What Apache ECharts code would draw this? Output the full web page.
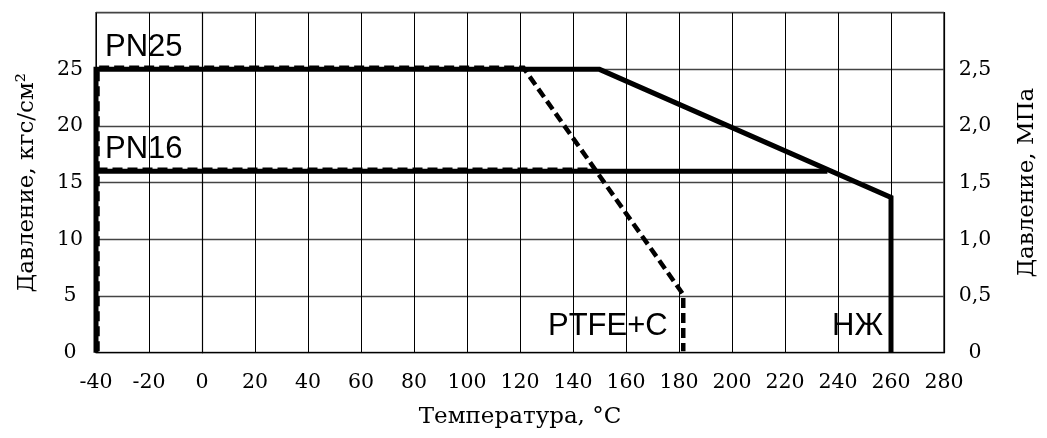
<!DOCTYPE html>
<html><head><meta charset="utf-8">
<script src="https://cdn.jsdelivr.net/npm/echarts@6/dist/echarts.min.js"></script>
<style>html,body{margin:0;padding:0;background:#fff}#c{width:1047px;height:438px}</style>
</head><body><div id="c"></div>
<script>
// Temperature axis (°C)
const xMin = -40, xMax = 280, xStep = 20;
// Pressure axes
const yLeftMax = 30, yLeftStep = 5;         // kgf/cm²
const yRightMax = 3, yRightStep = 0.5;      // MPa
const yLeftHiddenTick = 30;
const yRightHiddenTick = 3;

// НЖ (stainless) envelope, PN25
const nzhPN25 = [[-40, 0], [-40, 25], [150, 25], [260, 13.7], [260, 0]];
// НЖ, PN16
const nzhPN16 = [[-40, 16], [236, 16]];
// PTFE+C envelope, PN25
const ptfePN25 = [[-40, 0], [-40, 25], [120, 25], [180, 5], [180, 0]];
// PTFE+C, PN16
const ptfePN16 = [[-40, 16], [147, 16]];

const serif = '"DejaVu Serif", serif';
const sans = '"Liberation Sans", Arial, sans-serif';

const chart = echarts.init(document.getElementById('c'), null, {renderer: 'canvas'});

function xAxisCfg(gi, show) {
  return {
    type: 'value', gridIndex: gi, min: xMin, max: xMax, interval: xStep,
    show: show,
    name: show ? 'Температура, °C' : '', nameLocation: 'middle', nameGap: 53,
    nameTextStyle: {fontFamily: serif, fontSize: 23, color: '#000'},
    axisLine: {show: true, onZero: false, lineStyle: {color: '#000', width: 1.2}},
    axisTick: {show: false},
    axisLabel: {show: show, fontFamily: serif, fontSize: 20.5, color: '#000', margin: 19},
    splitLine: {show: show, lineStyle: {color: '#000', width: 1}}
  };
}

const option = {
  animation: false,
  backgroundColor: '#fff',
  grid: [
    {left: 96, right: 99, top: 12.7, bottom: 85.3, show: true, borderColor: '#000', borderWidth: 1.2, backgroundColor: 'transparent'},
    {left: 97.5, right: 97.5, top: 11.2, bottom: 86.8, show: false}
  ],
  xAxis: [xAxisCfg(0, true), xAxisCfg(1, false)],
  yAxis: [
    {
      type: 'value', gridIndex: 0, min: 0, max: yLeftMax, interval: yLeftStep,
      name: 'Давление, кгс/см²', nameLocation: 'middle', nameGap: 57, nameRotate: 90,
      nameTextStyle: {fontFamily: serif, fontSize: 23, color: '#000'},
      axisLine: {show: true, lineStyle: {color: '#000', width: 1.2}},
      axisTick: {show: false},
      axisLabel: {fontFamily: serif, fontSize: 20.5, color: '#000', margin: 26, align: 'center',
        formatter: v => v === yLeftHiddenTick ? '' : String(v)},
      splitLine: {show: true, lineStyle: {color: '#444', width: 1.3}}
    },
    {
      type: 'value', gridIndex: 0, position: 'right', min: 0, max: yRightMax, interval: yRightStep,
      name: 'Давление, МПа', nameLocation: 'middle', nameGap: 72, nameRotate: 90,
      nameTextStyle: {fontFamily: serif, fontSize: 23, color: '#000'},
      axisLine: {show: true, lineStyle: {color: '#000', width: 1.2}},
      axisTick: {show: false},
      axisLabel: {fontFamily: serif, fontSize: 20.5, color: '#000', margin: 31, align: 'center',
        formatter: v => v === yRightHiddenTick ? '' : (v === 0 ? '0' : v.toFixed(1).replace('.', ','))},
      splitLine: {show: false}
    },
    {type: 'value', gridIndex: 1, min: 0, max: yLeftMax, interval: yLeftStep, show: false, splitLine: {show: false}}
  ],
  series: [
    {type: 'line', name: 'НЖ PN25', xAxisIndex: 0, yAxisIndex: 0, data: nzhPN25, symbol: 'none',
      lineStyle: {color: '#000', width: 5, join: 'miter', cap: 'butt'}, z: 3},
    {type: 'line', name: 'НЖ PN16', xAxisIndex: 0, yAxisIndex: 0, data: nzhPN16, symbol: 'none',
      lineStyle: {color: '#000', width: 5, cap: 'butt'}, z: 3},
    {type: 'line', name: 'PTFE+C PN25', xAxisIndex: 1, yAxisIndex: 2, data: ptfePN25, symbol: 'none',
      lineStyle: {color: '#000', width: 4.5, type: [10, 5], join: 'miter', cap: 'butt'}, z: 4},
    {type: 'line', name: 'PTFE+C PN16', xAxisIndex: 1, yAxisIndex: 2, data: ptfePN16, symbol: 'none',
      lineStyle: {color: '#000', width: 4.5, type: [10, 5], cap: 'butt'}, z: 4}
  ],
  graphic: [
    {type: 'text', left: 105, top: 32, style: {text: 'PN25', font: '31px ' + sans, fill: '#000'}, z: 10},
    {type: 'text', left: 105, top: 134, style: {text: 'PN16', font: '31px ' + sans, fill: '#000'}, z: 10},
    {type: 'text', left: 548, top: 311, style: {text: 'PTFE+C', font: '31px ' + sans, fill: '#000'}, z: 10},
    {type: 'text', left: 832, top: 311, style: {text: 'НЖ', font: '31px ' + sans, fill: '#000'}, z: 10}
  ]
};
chart.setOption(option);
</script>
</body></html>
